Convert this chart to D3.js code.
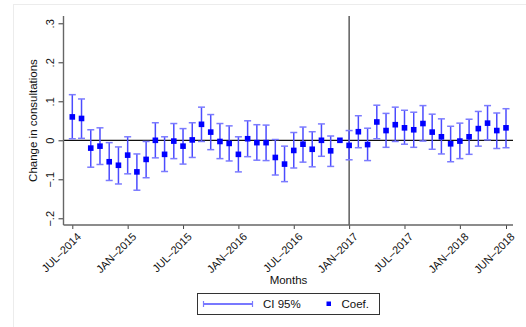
<!DOCTYPE html>
<html>
<head>
<meta charset="utf-8">
<script src="https://cdn.jsdelivr.net/npm/d3@7"></script>
<style>
  html, body { margin: 0; padding: 0; background: #ffffff; }
  svg { display: block; font-family: "Liberation Sans", Arial, Helvetica, sans-serif; }
</style>
</head>
<body>
<svg id="chart" width="526" height="327"></svg>
<script>
// Monthly event-study coefficients with 95% confidence intervals
const months = [
  "JUL–2014","AUG–2014","SEP–2014","OCT–2014","NOV–2014","DEC–2014",
  "JAN–2015","FEB–2015","MAR–2015","APR–2015","MAY–2015","JUN–2015",
  "JUL–2015","AUG–2015","SEP–2015","OCT–2015","NOV–2015","DEC–2015",
  "JAN–2016","FEB–2016","MAR–2016","APR–2016","MAY–2016","JUN–2016",
  "JUL–2016","AUG–2016","SEP–2016","OCT–2016","NOV–2016","DEC–2016",
  "JAN–2017","FEB–2017","MAR–2017","APR–2017","MAY–2017","JUN–2017",
  "JUL–2017","AUG–2017","SEP–2017","OCT–2017","NOV–2017","DEC–2017",
  "JAN–2018","FEB–2018","MAR–2018","APR–2018","MAY–2018","JUN–2018"
];
const coef = [
  0.060, 0.056, -0.020, -0.015, -0.055, -0.064,
  -0.038, -0.081, -0.049, 0.000, -0.036, -0.002,
  -0.015, 0.001, 0.041, 0.021, -0.003, -0.008,
  -0.036, 0.004, -0.006, -0.006, -0.044, -0.061,
  -0.026, -0.010, -0.023, 0.000, -0.027, 0.000,
  -0.013, 0.022, -0.011, 0.047, 0.025, 0.040,
  0.032, 0.027, 0.043, 0.021, 0.009, -0.009,
  -0.002, 0.009, 0.030, 0.044, 0.025, 0.032
];
const ciLow = [
  0.004, 0.005, -0.069, -0.062, -0.103, -0.112,
  -0.086, -0.128, -0.096, -0.045, -0.080, -0.047,
  -0.061, -0.044, -0.003, -0.024, -0.047, -0.053,
  -0.081, -0.042, -0.051, -0.052, -0.089, -0.106,
  -0.071, -0.056, -0.068, -0.041, -0.067, null,
  -0.050, -0.019, -0.052, 0.004, -0.018, -0.003,
  -0.010, -0.018, -0.002, -0.023, -0.035, -0.055,
  -0.047, -0.036, -0.015, 0.001, -0.021, -0.019
];
const ciHigh = [
  0.117, 0.106, 0.027, 0.032, -0.006, -0.017,
  0.009, -0.035, -0.003, 0.045, 0.009, 0.043,
  0.030, 0.045, 0.085, 0.066, 0.043, 0.037,
  0.009, 0.050, 0.040, 0.039, 0.002, -0.015,
  0.020, 0.034, 0.022, 0.042, 0.011, null,
  0.025, 0.063, 0.031, 0.090, 0.069, 0.085,
  0.077, 0.072, 0.089, 0.067, 0.055, 0.036,
  0.044, 0.054, 0.074, 0.089, 0.070, 0.081
];
const xTickLabels = ["JUL–2014","JAN–2015","JUL–2015","JAN–2016","JUL–2016","JAN–2017","JUL–2017","JAN–2018","JUN–2018"];
const yTicks = [-0.2, -0.1, 0, 0.1, 0.2, 0.3];
const yTickLabels = ["−.2", "−.1", "0", ".1", ".2", ".3"];
const breakMonth = "JAN–2017";

const svg = d3.select("#chart");

// outer graph region frame
svg.append("rect")
  .attr("x", 13.5).attr("y", 4.5).attr("width", 520).attr("height", 330)
  .attr("fill", "none").attr("stroke", "#ececec").attr("stroke-width", 1);

const plot = { left: 63.5, right: 513, top: 16, bottom: 225 };

const x = d3.scalePoint().domain(months).range([72.3, 506]);
const y = d3.scaleLinear().domain([-0.2, 0.3]).range([218.3, 23.3]);

// reference lines
svg.append("line")
  .attr("x1", plot.left).attr("x2", plot.right)
  .attr("y1", y(0)).attr("y2", y(0))
  .attr("stroke", "#111").attr("stroke-width", 1.3);
svg.append("line")
  .attr("x1", x(breakMonth)).attr("x2", x(breakMonth))
  .attr("y1", plot.top).attr("y2", plot.bottom)
  .attr("stroke", "#444").attr("stroke-width", 1.3);

// y axis
const yAxis = d3.axisLeft(y).tickValues(yTicks)
  .tickFormat((d, i) => yTickLabels[i]).tickSize(5).tickSizeOuter(0);
const gy = svg.append("g").attr("transform", `translate(${plot.left},0)`).call(yAxis);
gy.select(".domain").remove();
gy.selectAll(".tick line").attr("stroke", "#333");
gy.selectAll(".tick text")
  .attr("font-size", 11).attr("fill", "#111")
  .attr("x", null).attr("dy", null)
  .attr("text-anchor", "middle")
  .attr("transform", "translate(-10,0) rotate(-90)")
  .attr("y", 0);
svg.append("line")
  .attr("x1", plot.left).attr("x2", plot.left)
  .attr("y1", plot.top).attr("y2", plot.bottom)
  .attr("stroke", "#666").attr("stroke-width", 1.4);

// x axis
const xAxis = d3.axisBottom(x).tickValues(xTickLabels).tickSize(4).tickSizeOuter(0);
const gx = svg.append("g").attr("transform", `translate(0,${plot.bottom})`).call(xAxis);
gx.select(".domain").remove();
gx.selectAll(".tick line").attr("stroke", "#444");
gx.selectAll(".tick text")
  .attr("font-size", 11).attr("fill", "#111")
  .attr("text-anchor", "end")
  .attr("x", null).attr("y", null).attr("dy", null)
  .attr("transform", "translate(4,7.5) rotate(-45) translate(0,7)");
svg.append("line")
  .attr("x1", plot.left).attr("x2", plot.right)
  .attr("y1", plot.bottom).attr("y2", plot.bottom)
  .attr("stroke", "#666").attr("stroke-width", 1.4);

// axis titles
svg.append("text")
  .attr("transform", `translate(37,${(plot.top + plot.bottom) / 2}) rotate(-90)`)
  .attr("text-anchor", "middle").attr("font-size", 11.5).attr("fill", "#111")
  .text("Change in consultations");
svg.append("text")
  .attr("x", 288.5).attr("y", 284)
  .attr("text-anchor", "middle").attr("font-size", 11.5).attr("fill", "#111")
  .text("Months");

// confidence intervals
const ciData = months.map((m, i) => ({ m, lo: ciLow[i], hi: ciHigh[i] }))
  .filter(d => d.lo !== null && d.hi !== null);
const capW = 3.5;
const ci = svg.append("g").attr("class", "ci");
ci.selectAll("line.stem").data(ciData).join("line").attr("class", "stem")
  .attr("x1", d => x(d.m)).attr("x2", d => x(d.m))
  .attr("y1", d => y(d.hi)).attr("y2", d => y(d.lo))
  .attr("stroke", "#4b4bff").attr("stroke-width", 1.5);
ci.selectAll("line.capHi").data(ciData).join("line").attr("class", "capHi")
  .attr("x1", d => x(d.m) - capW).attr("x2", d => x(d.m) + capW)
  .attr("y1", d => y(d.hi)).attr("y2", d => y(d.hi))
  .attr("stroke", "#7b7bff").attr("stroke-width", 1.5);
ci.selectAll("line.capLo").data(ciData).join("line").attr("class", "capLo")
  .attr("x1", d => x(d.m) - capW).attr("x2", d => x(d.m) + capW)
  .attr("y1", d => y(d.lo)).attr("y2", d => y(d.lo))
  .attr("stroke", "#7b7bff").attr("stroke-width", 1.5);

// coefficient markers
const ms = 5.6;
svg.append("g").selectAll("rect").data(months).join("rect")
  .attr("x", (m) => x(m) - ms / 2)
  .attr("y", (m, i) => y(coef[i]) - ms / 2)
  .attr("width", ms).attr("height", ms)
  .attr("fill", "#0000ff");

// legend
const lg = svg.append("g");
lg.append("rect")
  .attr("x", 197.5).attr("y", 293.5).attr("width", 182).attr("height", 21)
  .attr("fill", "#fff").attr("stroke", "#333").attr("stroke-width", 1);
lg.append("line")
  .attr("x1", 203.5).attr("x2", 252.5).attr("y1", 304).attr("y2", 304)
  .attr("stroke", "#4b4bff").attr("stroke-width", 1.3);
[203.5, 252.5].forEach(cx => lg.append("line")
  .attr("x1", cx).attr("x2", cx).attr("y1", 301).attr("y2", 307)
  .attr("stroke", "#7b7bff").attr("stroke-width", 1.2));
lg.append("text").attr("x", 263).attr("y", 308.2)
  .attr("font-size", 11.5).attr("fill", "#111").text("CI 95%");
lg.append("rect").attr("x", 326.5).attr("y", 301.5).attr("width", 4.5).attr("height", 4.5)
  .attr("fill", "#0000ff");
lg.append("text").attr("x", 341.5).attr("y", 308.2)
  .attr("font-size", 11.5).attr("fill", "#111").text("Coef.");
</script>
</body>
</html>
